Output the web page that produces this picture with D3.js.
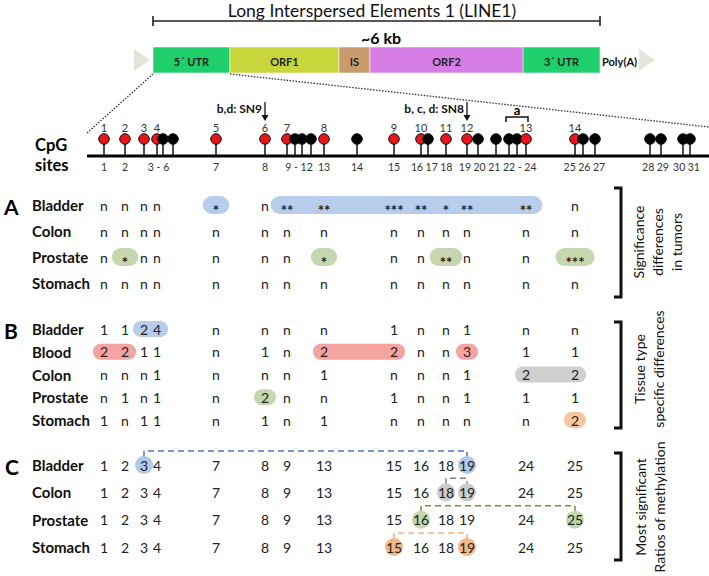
<!DOCTYPE html>
<html><head><meta charset="utf-8">
<script src="https://cdn.jsdelivr.net/npm/d3@7"></script>
<style>body{margin:0;background:#fff} svg{display:block}</style>
</head><body><svg id="c" width="709" height="576"></svg>
<script>
// ---------------- DATA ----------------
const titleText = "Long Interspersed Elements 1 (LINE1)";
const sizeText = "~6 kb";
const geneSegments = ["5´ UTR", "ORF1", "IS", "ORF2", "3´ UTR"];
const geneSegmentBp = [1030, 1460, 415, 2050, 1030];   // as drawn (not to scale)
const geneColors = ["#1fcf6b", "#c9d63b", "#c99a6c", "#d77de6", "#1fcf6b"];
const tailText = "Poly(A)";

// CpG sites in the 5'UTR amplicon: id and relative position (units along the axis)
const cpgIds = [1,2,3,4,5,6,7,8,9,10,11,12,13,14,15,16,17,18,19,20,21,22,23,24,25,26,27,28,29,30,31];
const cpgPos = [17,38,57,70,76,86,129,178,200,208,215,224,237,270,307,334,341,359,380,391,409,422,430,439,488,496,508,563,574,596,603];
const analysedSites = [1,2,3,4,7,8,9,13,15,16,18,19,24,25];   // red sites, numbered 1..14
const bottomLabels = ["1","2","3 - 6","7","8","9 - 12","13","14","15","16","17","18","19","20","21","22 - 24","25","26","27","28","29","30","31"];
const bottomLabelSites = [[1],[2],[3,6],[7],[8],[9,12],[13],[14],[15],[16],[17],[18],[19],[20],[21],[22,24],[25],[26],[27],[28],[29],[30],[31]];
const amplicons = [{label: "b,d: SN9", site: 8}, {label: "b, c, d: SN8", site: 19}];
const bracketA = {label: "a", from: 22, to: 24};

// Table columns = analysed sites
const tableSites = analysedSites;

// A: significance differences in tumors
const sigRows = ["Bladder", "Colon", "Prostate", "Stomach"];
const sigBladder  = ["n","n","n","n","*","n","**","**","***","**","*","**","**","n"];
const sigColon    = ["n","n","n","n","n","n","n","n","n","n","n","n","n","n"];
const sigProstate = ["n","*","n","n","n","n","n","*","n","n","**","n","n","***"];
const sigStomach  = ["n","n","n","n","n","n","n","n","n","n","n","n","n","n"];
const sigHighlights = [
  {row: "Bladder", from: 7, to: 7, color: "#b7cdeb"},
  {row: "Bladder", from: 9, to: 24, color: "#b7cdeb"},
  {row: "Prostate", from: 2, to: 2, color: "#c6d7b0"},
  {row: "Prostate", from: 13, to: 13, color: "#c6d7b0"},
  {row: "Prostate", from: 18, to: 18, color: "#c6d7b0"},
  {row: "Prostate", from: 25, to: 25, color: "#c6d7b0"}
];
const sigLabel = ["Significance", "differences", "in tumors"];

// B: tissue type specific differences
const tisRows = ["Bladder", "Blood", "Colon", "Prostate", "Stomach"];
const tisBladder  = ["1","1","2","4","n","n","n","n","1","n","n","1","n","n"];
const tisBlood    = ["2","2","1","1","n","1","n","2","2","n","n","3","1","1"];
const tisColon    = ["n","n","n","1","n","n","n","1","n","n","n","1","2","2"];
const tisProstate = ["n","1","n","1","n","2","n","n","1","n","n","1","1","1"];
const tisStomach  = ["1","n","1","1","n","1","n","1","n","n","n","n","n","2"];
const tisHighlights = [
  {row: "Bladder", from: 3, to: 4, color: "#b7cdeb"},
  {row: "Blood", from: 1, to: 2, color: "#f4a3a1"},
  {row: "Blood", from: 13, to: 15, color: "#f4a3a1"},
  {row: "Blood", from: 19, to: 19, color: "#f4a3a1"},
  {row: "Colon", from: 24, to: 25, color: "#cfcfcf"},
  {row: "Prostate", from: 8, to: 8, color: "#c6d7b0"},
  {row: "Stomach", from: 25, to: 25, color: "#f6c6a0"}
];
const tisLabel = ["Tissue type", "specific differences"];

// C: most significant ratios of methylation
const ratioRows = ["Bladder", "Colon", "Prostate", "Stomach"];
const ratioPairs = [[3, 19], [18, 19], [16, 25], [15, 19]];
const ratioFill = ["#b1c8ea", "#cbcbcb", "#c5d6ac", "#f4b688"];
const ratioLine = ["#4a76c4", "#808080", "#7d8c3c", "#f4b183"];
const ratioLabel = ["Most significant", "Ratios of methylation"];

// ---------------- DRAWING ----------------
const FONT = "Lato, 'Open Sans', sans-serif";
const svg = d3.select("#c");

const measurer = svg.append("text").attr("visibility", "hidden");
function textW(t, font) { measurer.style("font", font).text(t); return measurer.node().getComputedTextLength(); }

// Title and scale
const geneTotal = d3.sum(geneSegmentBp);
const geneX = d3.scaleLinear().domain([0, geneTotal]).range([153, 600]);
svg.append("text").attr("x", 372).attr("y", 10).attr("text-anchor", "middle")
  .attr("dominant-baseline", "central").style("font", `17.5px ${FONT}`).attr("fill", "#111").text(titleText);
svg.append("path").attr("d", `M${geneX(0)},16V26M${geneX(0)},21H${geneX(geneTotal)}M${geneX(geneTotal)},16V26`)
  .attr("stroke", "#222").attr("stroke-width", 1.6).attr("fill", "none");
svg.append("text").attr("x", 381).attr("y", 37).attr("text-anchor", "middle")
  .attr("dominant-baseline", "central").style("font", `bold 16px ${FONT}`).text(sizeText);

// gene bar
const starts = [0, ...d3.cumsum(geneSegmentBp)];
const barY = 47, barH = 26;
svg.append("polygon").attr("points", `${geneX(0)-19},${barY+2} ${geneX(0)-3},${barY+barH/2} ${geneX(0)-19},${barY+barH-2}`).attr("fill", "#e6e4da");
const seg = svg.append("g").selectAll("g").data(geneSegments).join("g");
seg.append("rect").attr("x", (d, i) => geneX(starts[i])).attr("y", barY)
  .attr("width", (d, i) => geneX(starts[i+1]) - geneX(starts[i])).attr("height", barH)
  .attr("fill", (d, i) => geneColors[i]).attr("stroke", "#f3f3f3").attr("stroke-width", 0.6);
seg.append("text").attr("x", (d, i) => (geneX(starts[i]) + geneX(starts[i+1])) / 2).attr("y", barY + barH/2 + 1)
  .attr("text-anchor", "middle").attr("dominant-baseline", "central").style("font", `bold 11px ${FONT}`).attr("fill", "#222").text(d => d);
svg.append("text").attr("x", geneX(geneTotal) + 2).attr("y", barY + barH/2 + 1).attr("dominant-baseline", "central")
  .style("font", `bold 11px ${FONT}`).attr("fill", "#111").text(tailText);
const tailEnd = geneX(geneTotal) + 2 + textW(tailText, `bold 11px ${FONT}`) + 2;
svg.append("polygon").attr("points", `${tailEnd},${barY+2} ${tailEnd+16},${barY+barH/2} ${tailEnd},${barY+barH-2}`).attr("fill", "#e6e4da");

// CpG axis
const cpgX = d3.scaleLinear().domain([0, 622]).range([87, 709]);
const posOf = id => cpgX(cpgPos[cpgIds.indexOf(id)]);
const axisY = 156, headY = 139;

// zoom dotted lines
svg.append("line").attr("x1", geneX(0)).attr("y1", barY + barH + 1).attr("x2", cpgX(0)).attr("y2", 133)
  .attr("stroke", "#333").attr("stroke-width", 1.3).attr("stroke-dasharray", "1.5,1.5");
svg.append("line").attr("x1", geneX(starts[1])).attr("y1", barY + barH + 1).attr("x2", cpgX(622)).attr("y2", 127)
  .attr("stroke", "#333").attr("stroke-width", 1.3).attr("stroke-dasharray", "1.5,1.5");

svg.append("text").attr("x", 35).attr("y", 145).attr("dominant-baseline", "central").style("font", `bold 16.5px ${FONT}`).text("CpG");
svg.append("text").attr("x", 35).attr("y", 165).attr("dominant-baseline", "central").style("font", `bold 16.5px ${FONT}`).text("sites");

const lolli = svg.append("g").selectAll("g").data(cpgIds).join("g");
lolli.append("line").attr("x1", d => posOf(d)).attr("x2", d => posOf(d)).attr("y1", headY).attr("y2", axisY)
  .attr("stroke", "#111").attr("stroke-width", 1.5);
lolli.append("circle").attr("cx", d => posOf(d)).attr("cy", headY).attr("r", 5.3)
  .attr("fill", d => analysedSites.includes(d) ? "#e8161b" : "#000").attr("stroke", "#111").attr("stroke-width", 1);
svg.append("line").attr("x1", cpgX(0)).attr("x2", cpgX(622)).attr("y1", axisY).attr("y2", axisY).attr("stroke", "#000").attr("stroke-width", 3);

// numbers above red sites
svg.append("g").selectAll("text").data(analysedSites).join("text")
  .attr("x", d => posOf(d)).attr("y", 127).attr("text-anchor", "middle").attr("dominant-baseline", "central")
  .style("font", `11px ${FONT}`).attr("fill", "#333").text((d, i) => i + 1);

// bottom labels with simple overlap relaxation
const bFont = `10.5px ${FONT}`;
const bl = bottomLabels.map((t, i) => ({t, x: d3.mean(bottomLabelSites[i], posOf), w: textW(t, bFont)}));
for (let it = 0; it < 60; it++) {
  for (let i = 1; i < bl.length; i++) {
    const a = bl[i-1], b = bl[i];
    const ov = (a.x + a.w/2 + 2.5) - (b.x - b.w/2);
    if (ov > 0) { a.x -= ov/2; b.x += ov/2; }
  }
}
svg.append("g").selectAll("text").data(bl).join("text")
  .attr("x", d => d.x).attr("y", 167).attr("text-anchor", "middle").attr("dominant-baseline", "central")
  .style("font", bFont).attr("fill", "#333").text(d => d.t);

// amplicon arrows
const arrows = svg.append("g");
amplicons.forEach(a => {
  const x = posOf(a.site);
  arrows.append("text").attr("x", x - 3).attr("y", 108).attr("text-anchor", "end").attr("dominant-baseline", "central")
    .style("font", `bold 12px ${FONT}`).attr("fill", "#111").text(a.label);
  arrows.append("line").attr("x1", x).attr("x2", x).attr("y1", 102).attr("y2", 116).attr("stroke", "#111").attr("stroke-width", 1.3);
  arrows.append("path").attr("d", `M${x-3.5},115 L${x+3.5},115 L${x},121 Z`).attr("fill", "#111");
});
// bracket "a"
{
  const x0 = posOf(bracketA.from) - 3, x1 = posOf(bracketA.to) + 2;
  svg.append("path").attr("d", `M${x0},122V117H${x1}V122`).attr("stroke", "#111").attr("stroke-width", 1.5).attr("fill", "none");
  svg.append("text").attr("x", (x0 + x1) / 2).attr("y", 110).attr("text-anchor", "middle").attr("dominant-baseline", "central")
    .style("font", `bold 13px ${FONT}`).text(bracketA.label);
}

// ---------- tables ----------
const labelFont = `bold 15px ${FONT}`;
const valFont = `14px ${FONT}`;
const starFont = `bold 15px ${FONT}`;
const colX = id => posOf(id);
const fontOf = d => d.includes("*") ? starFont : valFont;

function section(letter, rows, values, yRange, highlights, pillH, pad, sideLabel, labelXs, labelCY, bracketY) {
  const y = d3.scalePoint().domain(rows).range(yRange);
  const g = svg.append("g");
  g.append("text").attr("x", 4).attr("y", y(rows[0]) + 1).attr("dominant-baseline", "central")
    .style("font", `bold 21px ${FONT}`).text(letter);
  // highlight pills
  highlights.forEach(h => {
    const ri = rows.indexOf(h.row);
    const vf = values[ri][tableSites.indexOf(h.from)], vt = values[ri][tableSites.indexOf(h.to)];
    const x0 = colX(h.from) - textW(vf, fontOf(vf)) / 2 - pad;
    const x1 = colX(h.to) + textW(vt, fontOf(vt)) / 2 + pad;
    g.append("rect").attr("x", x0).attr("y", y(h.row) - pillH/2).attr("width", x1 - x0).attr("height", pillH)
      .attr("rx", pillH/2).attr("fill", h.color);
  });
  rows.forEach((r, ri) => {
    g.append("text").attr("x", 32).attr("y", y(r)).attr("dominant-baseline", "central").style("font", labelFont).attr("fill", "#111").text(r);
    g.append("g").selectAll("text").data(values[ri]).join("text")
      .attr("x", (d, i) => colX(tableSites[i])).attr("y", y(r))
      .attr("dy", d => d.includes("*") ? "0.33em" : "0")
      .attr("text-anchor", "middle").attr("dominant-baseline", "central")
      .style("font", fontOf).attr("fill", "#222").text(d => d);
  });
  g.append("path").attr("d", `M614,${bracketY[0]}H621V${bracketY[1]}H614`).attr("stroke", "#111").attr("stroke-width", 3).attr("fill", "none");
  sideLabel.forEach((t, i) => {
    g.append("text").attr("transform", `translate(${labelXs[i]},${labelCY}) rotate(-90)`).attr("text-anchor", "middle")
      .attr("dominant-baseline", "central").style("font", `14px ${FONT}`).attr("fill", "#111").text(t);
  });
}

section("A", sigRows, [sigBladder, sigColon, sigProstate, sigStomach], [205, 283], sigHighlights, 18, 10,
  sigLabel, [638, 657, 676], 242, [188, 297]);
section("B", tisRows, [tisBladder, tisBlood, tisColon, tisProstate, tisStomach], [329, 420], tisHighlights, 16, 7,
  tisLabel, [639, 658], 369, [322, 428]);

// C
{
  const y = d3.scalePoint().domain(ratioRows).range([465, 547]);
  const g = svg.append("g");
  g.append("text").attr("x", 5).attr("y", y(ratioRows[0]) + 1).attr("dominant-baseline", "central")
    .style("font", `bold 21px ${FONT}`).text("C");
  ratioRows.forEach((r, ri) => {
    const [a, b] = ratioPairs[ri];
    const ly = y(r) - 14;
    g.append("path").attr("d", `M${colX(a)},${y(r)-8}V${ly}H${colX(b)}V${y(r)-8}`)
      .attr("stroke", ratioLine[ri]).attr("stroke-width", 1.5).attr("stroke-dasharray", "6,4").attr("fill", "none");
    [a, b].forEach(s => g.append("circle").attr("cx", colX(s)).attr("cy", y(r)).attr("r", 9).attr("fill", ratioFill[ri]));
    g.append("text").attr("x", 32).attr("y", y(r)).attr("dominant-baseline", "central").style("font", labelFont).attr("fill", "#111").text(r);
    g.append("g").selectAll("text").data(tableSites).join("text")
      .attr("x", d => colX(d)).attr("y", y(r)).attr("text-anchor", "middle").attr("dominant-baseline", "central")
      .style("font", `14px ${FONT}`).attr("fill", "#222").text(d => d);
  });
  g.append("path").attr("d", `M614,453H621V560H614`).attr("stroke", "#111").attr("stroke-width", 3).attr("fill", "none");
  ratioLabel.forEach((t, i) => {
    g.append("text").attr("transform", `translate(${[640, 659][i]},507) rotate(-90)`).attr("text-anchor", "middle")
      .attr("dominant-baseline", "central").style("font", `14px ${FONT}`).attr("fill", "#111").text(t);
  });
}
measurer.remove();
</script></body></html>
